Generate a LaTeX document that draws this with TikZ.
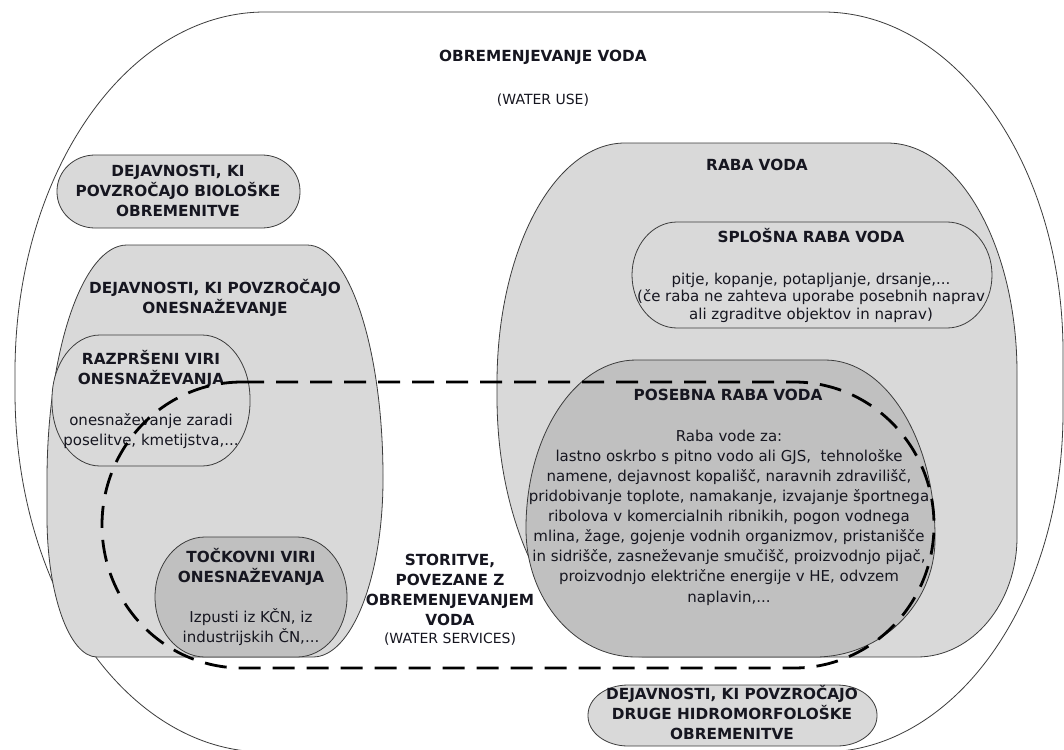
\documentclass[tikz,border=0pt]{standalone}
\usepackage{fontspec}
\setmainfont{DejaVu Sans}

\definecolor{shadeA}{RGB}{217,217,217}
\definecolor{shadeB}{RGB}{192,192,192}
\definecolor{edge}{RGB}{60,60,60}
\definecolor{ink}{RGB}{22,22,32}

% split "rx/ry" into two macros
\def\splitpair#1/#2\END{\def\pairA{#1}\def\pairB{#2}}

% box with four elliptical corners:
% #1 style, #2 x1, #3 y1, #4 x2, #5 y2, #6..#9 corner radii rx/ry (tl, tr, br, bl)
\newcommand\ellbox[9]{%
  \splitpair#6\END\let\cAx\pairA\let\cAy\pairB
  \splitpair#7\END\let\cBx\pairA\let\cBy\pairB
  \splitpair#8\END\let\cCx\pairA\let\cCy\pairB
  \splitpair#9\END\let\cDx\pairA\let\cDy\pairB
  \path[#1] ({#2+\cAx},#3) -- ({#4-\cBx},#3)
    .. controls ({#4-0.4477*\cBx},#3) and (#4,{#3+0.4477*\cBy}) .. (#4,{#3+\cBy})
    -- (#4,{#5-\cCy})
    .. controls (#4,{#5-0.4477*\cCy}) and ({#4-0.4477*\cCx},#5) .. ({#4-\cCx},#5)
    -- ({#2+\cDx},#5)
    .. controls ({#2+0.4477*\cDx},#5) and (#2,{#5-0.4477*\cDy}) .. (#2,{#5-\cDy})
    -- (#2,{#3+\cAy})
    .. controls (#2,{#3+0.4477*\cAy}) and ({#2+0.4477*\cAx},#3) .. cycle;
}

\tikzset{
  thinline/.style={draw=edge, line width=0.8pt},
  lightzone/.style={thinline, fill=shadeA},
  darkzone/.style={thinline, fill=shadeB},
  servicesline/.style={draw=black, line width=2.8pt, dash pattern=on 22pt off 12pt},
  headtxt/.style={font=\fontsize{15.3}{20}\selectfont\bfseries, text=ink, align=center, inner sep=0pt},
  bodytxt/.style={font=\fontsize{15}{20}\selectfont, text=ink, align=center, inner sep=0pt},
  captxt/.style={font=\fontsize{14}{19}\selectfont, text=ink, align=center, inner sep=0pt},
}

\begin{document}
\begin{tikzpicture}[x=1pt,y=-1pt]
\useasboundingbox (0,0) rectangle (1064,749);
\fill[white] (0,0) rectangle (1064,749);

% water use, the whole field
\ellbox{thinline, fill=white}{15}{12}{1063}{752}{250/360}{240/340}{240/340}{250/360}

% biological pressures
\ellbox{lightzone}{57}{155}{300}{228}{38/36}{38/36}{38/36}{38/36}

% pollution group and its two sources
\ellbox{lightzone}{47}{245}{383}{657}{80/235}{76/232}{70/178}{50/140}
\ellbox{lightzone}{52}{335}{250}{466}{48/64}{48/64}{48/64}{48/64}
\ellbox{darkzone}{155}{537}{347}{657}{50/60}{50/60}{50/60}{50/60}

% water use proper
\ellbox{lightzone}{497}{143}{1017}{657}{128/240}{130/230}{100/120}{150/260}
\ellbox{lightzone}{632}{222}{992}{328}{45/53}{45/53}{45/53}{45/53}
\ellbox{darkzone}{526}{360}{935}{657}{110/168}{110/177}{120/118}{110/128}

% other hydromorphological pressures
\ellbox{lightzone}{588}{685}{877}{746}{40/30}{40/30}{40/30}{40/30}

% labels
\node[headtxt] (title) at (543,57) {OBREMENJEVANJE VODA};
\node[captxt] (titleen) at (543,100) {(WATER USE)};

\node[headtxt] (bio) at (178,191) {DEJAVNOSTI, KI\\POVZROČAJO BIOLOŠKE\\OBREMENITVE};

\node[headtxt] (pollution) at (215,298) {DEJAVNOSTI, KI POVZROČAJO\\ONESNAŽEVANJE};
\node[headtxt] (diffuse) at (151,369) {RAZPRŠENI VIRI\\ONESNAŽEVANJA};
\node[bodytxt] (diffusetxt) at (151,431) {onesnaževanje zaradi\\poselitve, kmetijstva,...};
\node[headtxt] (point) at (251,566.5) {TOČKOVNI VIRI\\ONESNAŽEVANJA};
\node[bodytxt] (pointtxt) at (251,627) {Izpusti iz KČN, iz\\industrijskih ČN,...};

\node[headtxt] (services) at (450,590) {STORITVE,\\POVEZANE Z\\OBREMENJEVANJEM\\VODA};
\node[captxt] (servicesen) at (450,639) {(WATER SERVICES)};

\node[headtxt] (use) at (757,165) {RABA VODA};
\node[headtxt] (general) at (811,236) {SPLOŠNA RABA VODA};
\node[bodytxt, font=\fontsize{15}{17.5}\selectfont] (generaltxt) at (811,297.5)
  {pitje, kopanje, potapljanje, drsanje,...\\(če raba ne zahteva uporabe posebnih naprav\\ali zgraditve objektov in naprav)};
\node[headtxt] (special) at (728,395) {POSEBNA RABA VODA};
\node[bodytxt, font=\fontsize{15}{20.1}\selectfont] (specialtxt) at (729,517.5)
  {Raba vode za:\\lastno oskrbo s pitno vodo ali GJS,~ tehnološke\\namene, dejavnost kopališč, naravnih zdravilišč,\\pridobivanje toplote, namakanje, izvajanje športnega\\ribolova v komercialnih ribnikih, pogon vodnega\\mlina, žage, gojenje vodnih organizmov, pristanišče\\in sidrišče, zasneževanje smučišč, proizvodnjo pijač,\\proizvodnjo električne energije v HE, odvzem\\naplavin,...};

\node[headtxt] (hydro) at (732,712.5) {DEJAVNOSTI, KI POVZROČAJO\\DRUGE HIDROMORFOLOŠKE\\OBREMENITVE};

% water services boundary, dashed, on top
\ellbox{servicesline}{102}{382}{934}{668}{140/143}{140/143}{140/143}{140/143}
\end{tikzpicture}
\end{document}
